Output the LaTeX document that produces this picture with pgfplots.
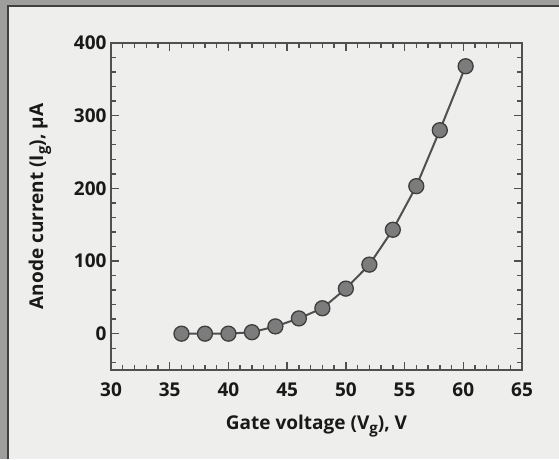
\documentclass[border=0pt]{standalone}
\usepackage{pgfplots}
\pgfplotsset{compat=1.18}
\usepackage{fontspec}
\setmainfont{Open Sans}
\definecolor{bandgray}{HTML}{9E9E9C}
\definecolor{panel}{HTML}{EEEEEC}
\definecolor{axgray}{HTML}{505050}
\definecolor{mfill}{HTML}{7C7C7C}
\definecolor{mdraw}{HTML}{3E3E3E}
\newcommand{\sub}[1]{\raisebox{-0.45ex}{\fontsize{15}{15}\selectfont #1}}
\begin{document}
\begin{tikzpicture}[x=1pt,y=1pt]
\useasboundingbox (0,0) rectangle (559,459);
\fill[bandgray] (0,0) rectangle (559,459);
\fill[panel] (8,0) rectangle (559,453);
\draw[black!75, line width=1.2pt] (8,0) -- (8,453) -- (559,453);
\begin{axis}[
  at={(111pt,89pt)}, anchor=south west,
  scale only axis, width=411pt, height=327pt,
  xmin=30, xmax=65, ymin=-50, ymax=400,
  xtick={30,35,...,65}, ytick={0,100,...,400},
  minor xtick={31,32,...,64},
  minor ytick={-40,-20,...,380},
  tick pos=both, tick align=inside,
  major tick length=8pt, minor tick length=5pt,
  axis line style={axgray, line width=1.6pt},
  every tick/.style={axgray, line width=1.4pt},
  ticklabel style={font=\fontsize{19}{21}\selectfont\bfseries, text=black!90},
  /pgf/number format/assume math mode=true,
  xticklabel style={yshift=-9pt},
  yticklabel style={xshift=-1pt},
  xlabel={Gate voltage (V\sub{g}), V},
  ylabel={Anode current (I\sub{g}), µA},
  label style={font=\fontsize{19}{21}\selectfont\bfseries, text=black!90},
  xlabel style={at={(axis description cs:0.5,0)}, anchor=center, yshift=-56pt},
  ylabel style={at={(axis description cs:0,0.5)}, anchor=center, yshift=71pt},
  axis background/.style={fill=panel},
]
\addplot[color=axgray, line width=2pt, mark=*, mark size=7.5pt,
  mark options={fill=mfill, draw=mdraw, line width=1.3pt}]
coordinates {
(36,0) (38,0) (40,0) (42,2) (44,10) (46,21) (48,35) (50,62)
(52,95) (54,143) (56,203) (58,280) (60.2,368)
};
\end{axis}
\end{tikzpicture}
\end{document}
